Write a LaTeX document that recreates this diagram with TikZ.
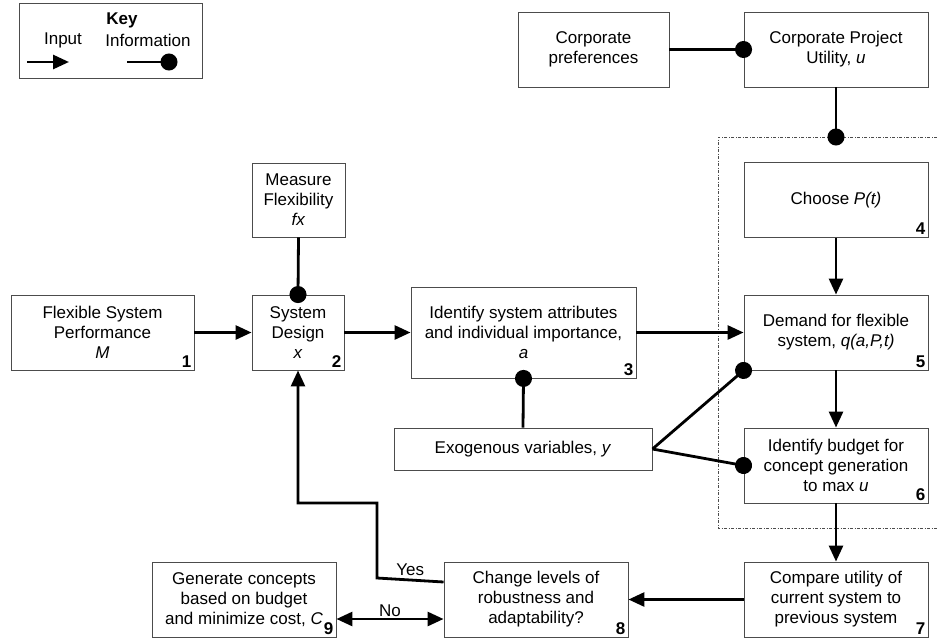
\documentclass[tikz,border=0pt]{standalone}
\usepackage{fontspec}
\setmainfont{Liberation Sans}
\usetikzlibrary{arrows.meta}
\begin{document}
\begin{tikzpicture}[x=1pt,y=-1pt,
    box/.style={draw=black!70, line width=0.9pt, rectangle, inner sep=0pt, align=center, font=\fontsize{17}{20}\selectfont},
    num/.style={label={[anchor=south east, inner sep=3pt, font=\fontsize{17}{20}\selectfont\bfseries]south east:#1}},
    input/.style={line width=2.8pt, -{Triangle[length=16pt,width=14pt]}},
    info/.style={line width=2.8pt, -{Circle[length=17pt]}, shorten >=-8.5pt},
    group/.style={draw=black!70, line width=0.7pt, dash pattern=on 3pt off 1.5pt on 1pt off 1.5pt},
    every node/.style={font=\fontsize{17}{20}\selectfont}]
    \useasboundingbox (0,0) rectangle (937,640);
    %Key
    \node[box, minimum width=183, minimum height=75] (key) at (110.5,40.5) {};
    \node[font=\fontsize{17}{20}\selectfont\bfseries] (keytitle) at (122,20) {Key};
    \node (keyin) at (63,40) {Input};
    \node (keyinfo) at (148,40) {Information};
    \coordinate (kin1) at (27,62);
    \coordinate (kin2) at (69,62);
    \coordinate (kinf1) at (127,62);
    \coordinate (kinf2) at (169,62);
    \draw[input] (kin1) -- (kin2);
    \draw[info] (kinf1) -- (kinf2);
    %Corporate
    \node[box, minimum width=151, minimum height=75] (cpref) at (593.5,49.5) {Corporate\\preferences};
    \node[box, minimum width=184, minimum height=75] (cpu) at (836,49.5) {Corporate Project\\Utility, \textit{u}};
    %Group
    \draw[group] (937,137) -- (718,137) -- (718,528) -- (937,528);
    \coordinate (grptop) at (836,137);
    %Boxes
    \node[box, minimum width=93, minimum height=74] (fx) at (298.5,200) {Measure\\Flexibility\\\textit{fx}};
    \node[box, num=4, minimum width=184, minimum height=75] (b4) at (836,200) {Choose \textit{P(t)}};
    \node[box, num=1, minimum width=183, minimum height=75] (b1) at (102.5,332.5) {Flexible System\\Performance\\\textit{M}};
    \node[box, num=2, minimum width=92, minimum height=75] (b2) at (298,332.5) {System\\Design\\\textit{x}};
    \node[box, num=3, minimum width=225, minimum height=91] (b3) at (523.5,332.5) {Identify system attributes\\and individual importance,\\\textit{a}};
    \node[box, num=5, minimum width=184, minimum height=75] (b5) at (836,332.5) {Demand for flexible\\system, \textit{q(a,P,t)}};
    \node[box, minimum width=258, minimum height=42] (exo) at (523,449) {Exogenous variables, \textit{y}};
    \node[box, num=6, minimum width=184, minimum height=75] (b6) at (836,465.5) {Identify budget for\\concept generation\\to max \textit{u}};
    \node[box, num=9, minimum width=184, minimum height=75] (b9) at (244,599.5) {Generate concepts\\based on budget\\and minimize cost, \textit{C}};
    \node[box, num=8, minimum width=184, minimum height=75] (b8) at (536,599.5) {Change levels of\\robustness and\\adaptability?};
    \node[box, num=7, minimum width=184, minimum height=75] (b7) at (836,599.5) {Compare utility of\\current system to\\previous system};
    %Information links
    \draw[info] (cpref) -- (cpu);
    \draw[info] (cpu.south) -- (grptop);
    \draw[info] (fx.south) -- (b2.north);
    \draw[info] (exo.north) -- (b3.south);
    \draw[info] (exo.east) -- (b5.south west);
    \draw[info] (exo.east) -- (b6.west);
    %Inputs
    \draw[input] (b1) -- (b2);
    \draw[input] (b2) -- (b3);
    \draw[input] (b3) -- (b5);
    \draw[input] (b4) -- (b5);
    \draw[input] (b5) -- (b6);
    \draw[input] (b6) -- (b7);
    \draw[input] (b7) -- (b8);
    %Decision
    \coordinate (yesa) at (377,578);
    \coordinate (yesb) at (377,503);
    \draw[input] ([yshift=17.5pt]b8.west) -- node[above] (yes) {Yes} (yesa) -- (yesb) -| (b2.south);
    \draw[line width=2.8pt, {Triangle[length=16pt,width=14pt]}-{Triangle[length=16pt,width=14pt]}] ([yshift=-19.5pt]b9.east) -- node[above, inner sep=1pt] (no) {No} ([yshift=-19.5pt]b8.west);
\end{tikzpicture}
\end{document}
